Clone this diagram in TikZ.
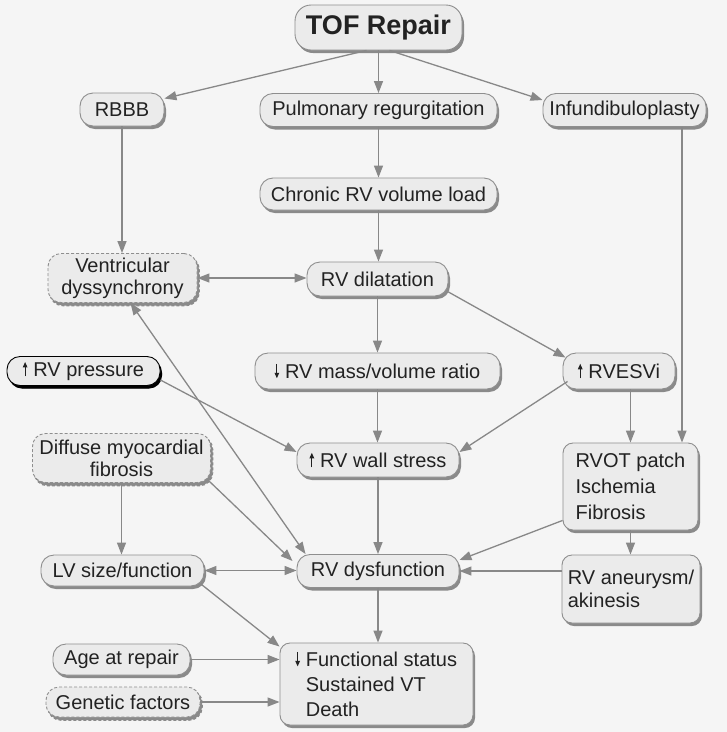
\documentclass[tikz,border=0pt]{standalone}
\usepackage{fontspec}
\setmainfont{Liberation Sans}
\usetikzlibrary{arrows.meta,shadows,calc}
\definecolor{bg}{HTML}{F5F5F5}
\definecolor{boxfill}{HTML}{EBEBEB}
\definecolor{boxline}{HTML}{8E8E8E}
\definecolor{shade}{HTML}{8A8A8A}
\definecolor{arrowc}{HTML}{888888}
\definecolor{txt}{HTML}{222222}
\newcommand\myup{\tikz[baseline=0pt]\draw[draw=txt, line width=1.1pt, -{Triangle[length=5.5pt,width=4.5pt]}] (0pt,0pt) -- (0pt,14.5pt);\hspace{6pt}}
\newcommand\mydown{\tikz[baseline=0pt]\draw[draw=txt, line width=1.1pt, -{Triangle[length=5.5pt,width=4.5pt]}] (0pt,14.5pt) -- (0pt,0pt);\hspace{6pt}}
\tikzset{
  box/.style={draw=boxline, fill=boxfill, line width=0.9pt, rounded corners=13pt,
    align=center, inner sep=0pt, text=txt,
    font=\fontsize{20}{22}\selectfont,
    drop shadow={shadow xshift=2pt, shadow yshift=-3pt, fill=shade, opacity=1}},
  dbox/.style={box, densely dashed,
    drop shadow={shadow xshift=2pt, shadow yshift=-3pt, fill=none, draw=shade, line width=1.6pt, densely dashed, opacity=1}},
  kbox/.style={box, draw=black,
    drop shadow={shadow xshift=2pt, shadow yshift=-3pt, fill=black, opacity=1}},
  mbox/.style={box, rounded corners=10pt, align=left, font=\fontsize{20}{26}\selectfont},
  arr/.style={draw=arrowc, line width=1.3pt, -{Triangle[length=12pt,width=9pt]}},
  darr/.style={draw=arrowc, line width=1.3pt, {Triangle[length=12pt,width=9pt]}-{Triangle[length=12pt,width=9pt]}}
}
\begin{document}
\begin{tikzpicture}[x=1pt,y=-1pt]
\useasboundingbox (0,0) rectangle (727,732);
\fill[bg] (0,0) rectangle (727,732);

\node[box, rounded corners=16pt, minimum width=167pt, minimum height=45pt, font=\fontsize{27}{30}\selectfont\bfseries] (tof) at (378.5,27.5) {TOF Repair};
\node[box, minimum width=84pt, minimum height=33pt] (rbbb) at (122,109.5) {RBBB};
\node[box, minimum width=237pt, minimum height=33pt] (pulm) at (378.5,110) {Pulmonary regurgitation};
\node[box, minimum width=163pt, minimum height=33pt] (infund) at (624.5,110) {Infundibuloplasty};
\node[box, minimum width=237pt, minimum height=32pt] (chronic) at (378.5,194) {Chronic RV volume load};
\node[dbox, minimum width=149pt, minimum height=49pt] (vent) at (122.5,278) {Ventricular\\dyssynchrony};
\node[box, minimum width=141pt, minimum height=34pt] (rvdil) at (377.5,279) {RV dilatation};
\node[kbox, minimum width=153pt, minimum height=29pt] (rvpress) at (83.5,371) {\myup RV pressure};
\node[box, minimum width=245pt, minimum height=36pt] (massvol) at (377.5,371) {\mydown RV mass/volume ratio};
\node[box, minimum width=112pt, minimum height=36pt] (rvesvi) at (619,371) {\myup RVESVi};
\node[dbox, minimum width=178pt, minimum height=49pt] (diffuse) at (121.5,458) {Diffuse myocardial\\fibrosis};
\node[box, minimum width=162pt, minimum height=34pt] (wallstress) at (378,460) {\myup RV wall stress};
\node[mbox, minimum width=135pt, minimum height=87pt] (rvot) at (630.5,486.5) {RVOT patch\\Ischemia\\Fibrosis};
\node[box, minimum width=163pt, minimum height=31pt] (lvsize) at (122.5,570.5) {LV size/function};
\node[box, minimum width=162pt, minimum height=33pt] (rvdys) at (378,571) {RV dysfunction};
\node[mbox, minimum width=138pt, minimum height=68pt, font=\fontsize{20}{23}\selectfont] (aneurysm) at (631,589) {RV aneurysm/\\akinesis};
\node[box, minimum width=137pt, minimum height=31pt] (age) at (121.5,659.5) {Age at repair};
\node[dbox, minimum width=154pt, minimum height=30pt] (genetic) at (123,702) {Genetic factors};
\node[mbox, minimum width=193pt, minimum height=82pt, font=\fontsize{20}{25}\selectfont] (functional) at (376.5,684) {\hspace*{10pt}\llap{\mydown}Functional status\\\hspace*{10pt}Sustained VT\\\hspace*{10pt}Death};

\draw[arr] ([xshift=-12pt]tof.south) -- ([yshift=11pt]rbbb.east);
\draw[arr] (tof.south) -- (pulm.north);
\draw[arr] ([xshift=11pt]tof.south) -- ([yshift=10pt]infund.west);
\draw[arr] (rbbb.south) -- (rbbb.south |- vent.north);
\draw[arr] (pulm.south) -- (chronic.north);
\draw[arr] (chronic.south) -- (chronic.south |- rvdil.north);
\draw[arr] ([xshift=57.5pt]infund.south) -- ([xshift=57.5pt]infund.south |- rvot.north);
\draw[darr] (vent.east) -- (vent.east -| rvdil.west);
\draw[arr] (rvdil.south) -- (rvdil.south |- massvol.north);
\draw[arr] ([yshift=-13pt]rvdil.east) -- ([xshift=3pt,yshift=-5pt]rvesvi.north west);
\draw[arr] ([yshift=-9pt]rvpress.east) -- ([yshift=8pt]wallstress.west);
\draw[arr] (massvol.south) -- (massvol.south |- wallstress.north);
\draw[arr] ([xshift=5pt,yshift=8pt]rvesvi.south west) -- ([yshift=8pt]wallstress.east);
\draw[arr] (rvesvi.south -| rvot.north) -- (rvot.north);
\draw[arr] (wallstress.south) -- (wallstress.south |- rvdys.north);
\draw[arr] (diffuse.south) -- (diffuse.south |- lvsize.north);
\draw[arr] ([xshift=-2pt,yshift=2pt]diffuse.south east) -- ([xshift=-4pt,yshift=10pt]rvdys.west);
\draw[darr] ([xshift=8pt]vent.south) -- ([xshift=9pt]rvdys.north west);
\draw[arr] ([yshift=10pt]rvot.south west) -- ([yshift=11pt]rvdys.east);
\draw[arr] (rvot.south) -- (rvot.south |- aneurysm.north);
\draw[arr] (aneurysm.west |- rvdys.east) -- (rvdys.east);
\draw[darr] (lvsize.east) -- (lvsize.east -| rvdys.west);
\draw[arr] (rvdys.south) -- (rvdys.south |- functional.north);
\draw[arr] ([xshift=-3pt,yshift=2pt]lvsize.south east) -- ([yshift=-4pt]functional.north west);
\draw[arr] (age.east) -- (age.east -| functional.west);
\draw[arr] (genetic.east) -- (genetic.east -| functional.west);
\end{tikzpicture}
\end{document}
